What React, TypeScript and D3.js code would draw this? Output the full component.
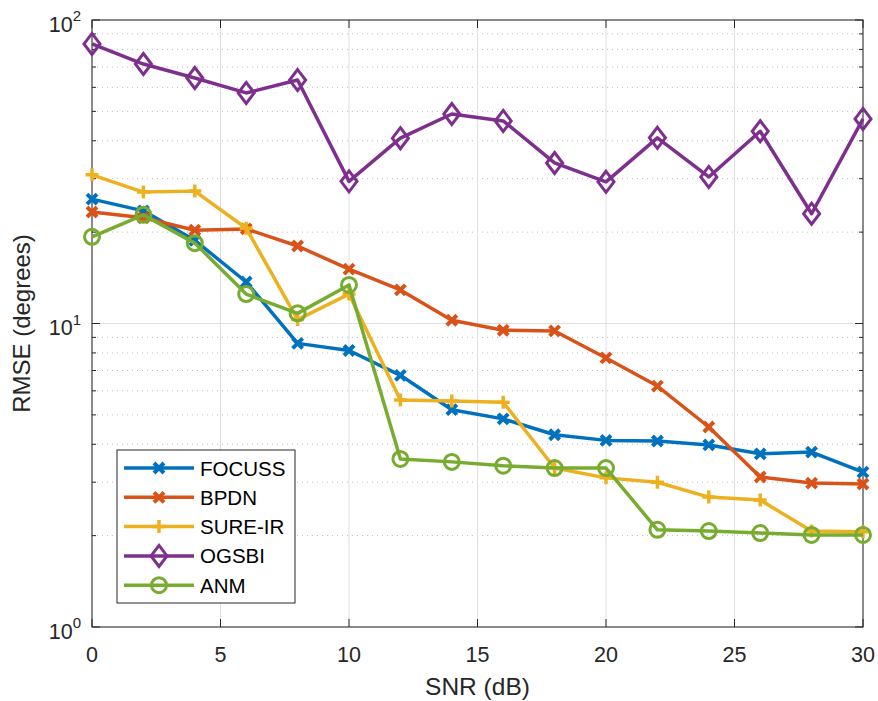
import React from "react";
import * as d3 from "d3";

const snr = [0, 2, 4, 6, 8, 10, 12, 14, 16, 18, 20, 22, 24, 26, 28, 30];
const focuss = [25.7, 23.5, 18.8, 13.7, 8.6, 8.15, 6.75, 5.2, 4.85, 4.3, 4.12, 4.1, 3.98, 3.72, 3.77, 3.24];
const bpdn = [23.3, 22.3, 20.3, 20.5, 18.0, 15.1, 12.9, 10.25, 9.5, 9.45, 7.7, 6.22, 4.56, 3.12, 2.98, 2.96];
const sureIr = [30.9, 27.1, 27.3, 20.6, 10.3, 12.5, 5.6, 5.55, 5.5, 3.34, 3.1, 3.0, 2.68, 2.62, 2.07, 2.06];
const ogsbi = [83.4, 71.6, 64.4, 57.5, 63.4, 29.4, 40.8, 49.0, 46.5, 33.8, 29.3, 40.9, 30.4, 43.0, 23.0, 47.2];
const anm = [19.3, 22.8, 18.4, 12.5, 10.8, 13.4, 3.58, 3.5, 3.4, 3.34, 3.34, 2.09, 2.07, 2.04, 2.01, 2.01];

const seriesNames = ["FOCUSS", "BPDN", "SURE-IR", "OGSBI", "ANM"];
const xTicks = [0, 5, 10, 15, 20, 25, 30];
const yDecades = [0, 1, 2];

type Marker = "x" | "plus" | "diamond" | "circle";
const series: { name: string; values: number[]; color: string; marker: Marker }[] = [
  { name: seriesNames[0], values: focuss, color: "#0072BD", marker: "x" },
  { name: seriesNames[1], values: bpdn, color: "#D95319", marker: "x" },
  { name: seriesNames[2], values: sureIr, color: "#EDB120", marker: "plus" },
  { name: seriesNames[3], values: ogsbi, color: "#7E2F8E", marker: "diamond" },
  { name: seriesNames[4], values: anm, color: "#77AC30", marker: "circle" },
];

const W = 878;
const H = 701;
const L = 92, R = 863, T = 20, B = 627;
const AX = "#262626";
const FONT = "'Liberation Sans', Arial, Helvetica, sans-serif";
const LW = 3.5;

function MarkerShape({ m, x, y, color }: { m: Marker; x: number; y: number; color: string }) {
  const sw = LW;
  if (m === "x") {
    const s = 5;
    return (
      <path d={`M${x - s},${y - s}L${x + s},${y + s}M${x - s},${y + s}L${x + s},${y - s}`} stroke={color} strokeWidth={sw + 0.5} fill="none" />
    );
  }
  if (m === "plus") {
    const s = 6.5;
    return <path d={`M${x - s},${y}L${x + s},${y}M${x},${y - s}L${x},${y + s}`} stroke={color} strokeWidth={sw} fill="none" />;
  }
  if (m === "diamond") {
    const w = 8, h = 10.5;
    return <path d={`M${x},${y - h}L${x + w},${y}L${x},${y + h}L${x - w},${y}Z`} stroke={color} strokeWidth={sw - 0.5} fill="none" />;
  }
  return <circle cx={x} cy={y} r={7.5} stroke={color} strokeWidth={sw - 0.5} fill="none" />;
}

export default function App() {
  const x = d3.scaleLinear().domain([0, 30]).range([L, R]);
  const y = d3.scaleLog().domain([1, 100]).range([B, T]);
  const line = d3.line<number>().x((_, i) => x(snr[i])).y((d) => y(d));

  const minor: number[] = [];
  for (let dec = 0; dec < 2; dec++) for (let k = 2; k <= 9; k++) minor.push(k * Math.pow(10, dec));

  const legX = 117, legY = 450, legW = 178, legH = 153;
  const rowY = (i: number) => 468 + i * 29.3;

  return (
    <svg width={W} height={H} style={{ position: "absolute", left: 0, top: 0, background: "#fff" }} fontFamily={FONT}>
      <rect x={0} y={0} width={W} height={H} fill="#fff" />
      {/* minor grid */}
      {minor.map((v) => (
        <line key={"mg" + v} x1={L} x2={R} y1={y(v)} y2={y(v)} stroke="#bdbdbd" strokeWidth={1} strokeDasharray="1,4" />
      ))}
      {/* major grid */}
      {xTicks.map((t) => (
        <line key={"xg" + t} x1={x(t)} x2={x(t)} y1={T} y2={B} stroke="#dfdfdf" strokeWidth={1} />
      ))}
      {yDecades.map((d) => (
        <line key={"yg" + d} x1={L} x2={R} y1={y(Math.pow(10, d))} y2={y(Math.pow(10, d))} stroke="#dfdfdf" strokeWidth={1} />
      ))}
      {/* axes box */}
      <rect x={L} y={T} width={R - L} height={B - T} fill="none" stroke={AX} strokeWidth={1} />
      {/* ticks */}
      {xTicks.map((t) => (
        <g key={"xt" + t}>
          <line x1={x(t)} x2={x(t)} y1={B} y2={B - 8} stroke={AX} />
          <line x1={x(t)} x2={x(t)} y1={T} y2={T + 8} stroke={AX} />
          <text x={x(t)} y={662} textAnchor="middle" fontSize={21.5} fill={AX}>{t}</text>
        </g>
      ))}
      {yDecades.map((d) => (
        <g key={"yt" + d}>
          <line x1={L} x2={L + 8} y1={y(Math.pow(10, d))} y2={y(Math.pow(10, d))} stroke={AX} />
          <line x1={R} x2={R - 8} y1={y(Math.pow(10, d))} y2={y(Math.pow(10, d))} stroke={AX} />
          <text x={81} y={y(Math.pow(10, d)) + 11.5} textAnchor="end" fontSize={21.5} fill={AX}>
            10<tspan dy={-10.5} fontSize={15}>{d}</tspan>
          </text>
        </g>
      ))}
      {minor.map((v) => (
        <g key={"mt" + v}>
          <line x1={L} x2={L + 4} y1={y(v)} y2={y(v)} stroke={AX} />
          <line x1={R} x2={R - 4} y1={y(v)} y2={y(v)} stroke={AX} />
        </g>
      ))}
      {/* series */}
      {series.map((s) => (
        <g key={s.name}>
          <path d={line(s.values) || ""} fill="none" stroke={s.color} strokeWidth={LW} strokeLinejoin="round" />
          {s.values.map((v, i) => (
            <MarkerShape key={i} m={s.marker} x={x(snr[i])} y={y(v)} color={s.color} />
          ))}
        </g>
      ))}
      {/* legend */}
      <rect x={legX} y={legY} width={legW} height={legH} fill="#fff" stroke={AX} strokeWidth={1} />
      {series.map((s, i) => (
        <g key={"lg" + s.name}>
          <line x1={124} x2={194} y1={rowY(i)} y2={rowY(i)} stroke={s.color} strokeWidth={LW} />
          <MarkerShape m={s.marker} x={159} y={rowY(i)} color={s.color} />
          <text x={200} y={rowY(i) + 7.5} fontSize={20.5} fill="#000">{s.name}</text>
        </g>
      ))}
      {/* axis labels */}
      <text x={(L + R) / 2} y={695} textAnchor="middle" fontSize={24.5} fill={AX}>SNR (dB)</text>
      <text transform={`translate(30,${(T + B) / 2}) rotate(-90)`} textAnchor="middle" fontSize={24} fill={AX}>RMSE (degrees)</text>
    </svg>
  );
}
